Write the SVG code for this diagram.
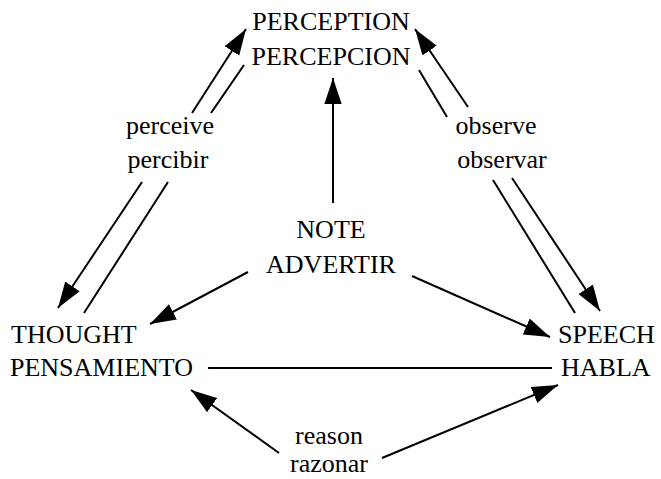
<svg xmlns="http://www.w3.org/2000/svg" width="661" height="479" viewBox="0 0 661 479">
<style>
text{font-family:"Liberation Serif","Times New Roman",serif;font-size:26px;fill:#000}
.c{text-anchor:middle}
line{stroke:#000;stroke-width:2;fill:none}
</style>
<defs>
<marker id="ah" markerUnits="userSpaceOnUse" markerWidth="26" markerHeight="18" viewBox="0 0 24 16" refX="24" refY="8" orient="auto">
<path d="M0,0 L24,8 L0,16 Z" fill="#000"/>
</marker>
</defs>
<rect width="661" height="479" fill="#fff"/>
<g font-family="Liberation Serif, serif">
<g id="perception"><text class="c" x="331" y="30">PERCEPTION</text><text class="c" x="331" y="65">PERCEPCION</text></g>
<g id="note"><text class="c" x="331" y="238">NOTE</text><text class="c" x="331" y="273">ADVERTIR</text></g>
<g id="thought"><text x="11" y="343">THOUGHT</text><text x="10" y="376">PENSAMIENTO</text></g>
<g id="speech"><text x="558" y="343">SPEECH</text><text x="561" y="376">HABLA</text></g>
<g id="labels">
<text class="c" x="170" y="134">perceive</text><text class="c" x="168" y="168">percibir</text>
<text class="c" x="496" y="134">observe</text><text class="c" x="502" y="168">observar</text>
<text class="c" x="329" y="444">reason</text><text class="c" x="329" y="472">razonar</text>
</g>
</g>
<g id="connectors">
<line x1="333" y1="203" x2="333" y2="78" marker-end="url(#ah)"/>
<line x1="192" y1="113" x2="246" y2="29" marker-end="url(#ah)"/>
<line x1="211" y1="113" x2="244" y2="65"/>
<line x1="142" y1="182" x2="58" y2="308" marker-end="url(#ah)"/>
<line x1="168" y1="182" x2="84" y2="313"/>
<line x1="468" y1="107" x2="415" y2="29" marker-end="url(#ah)"/>
<line x1="447" y1="117" x2="419" y2="70"/>
<line x1="493" y1="180" x2="575" y2="313"/>
<line x1="512" y1="178" x2="600" y2="311" marker-end="url(#ah)"/>
<line x1="248" y1="272" x2="150" y2="324" marker-end="url(#ah)"/>
<line x1="412" y1="276" x2="550" y2="337" marker-end="url(#ah)"/>
<line x1="208" y1="368" x2="552" y2="368"/>
<line x1="279" y1="453" x2="191" y2="390" marker-end="url(#ah)"/>
<line x1="382" y1="458" x2="558" y2="385" marker-end="url(#ah)"/>
</g>
</svg>
